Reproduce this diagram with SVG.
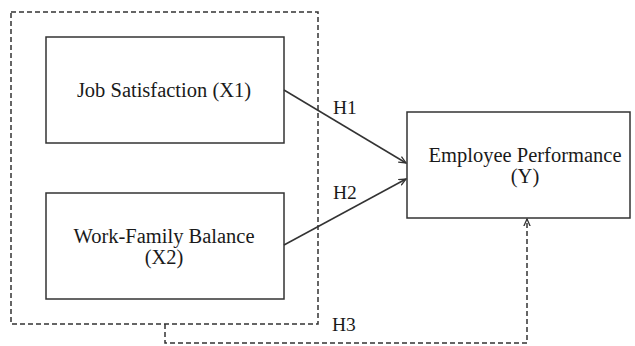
<svg xmlns="http://www.w3.org/2000/svg" width="635" height="346" viewBox="0 0 635 346">
<style>
.box{fill:#fff;stroke:#333;stroke-width:1.5}
.dash{fill:none;stroke:#333;stroke-width:1.5;stroke-dasharray:5,3}
.line{fill:none;stroke:#333;stroke-width:1.5}
text{font-family:"Liberation Serif","Times New Roman",serif;font-size:20.5px;fill:#1a1a1a;text-anchor:middle}
.lbl{text-anchor:start;font-size:19.5px}
</style>
<defs>
<marker id="arr" viewBox="0 0 10 10" refX="9" refY="5" markerWidth="8" markerHeight="8" markerUnits="userSpaceOnUse" orient="auto">
<path d="M0,1 L9,5 L0,9" fill="none" stroke="#333" stroke-width="1.6"/>
</marker>
</defs>
<rect x="0" y="0" width="635" height="346" fill="#fff"/>
<g id="group-box">
<rect class="dash" x="11" y="12" width="307" height="312"/>
</g>
<g id="node-x1">
<rect class="box" x="46" y="37" width="238" height="106"/>
<text x="164" y="97">Job Satisfaction (X1)</text>
</g>
<g id="node-x2">
<rect class="box" x="46" y="193" width="238" height="106"/>
<text x="164" y="243">Work-Family Balance</text>
<text x="164" y="264">(X2)</text>
</g>
<g id="node-y">
<rect class="box" x="407" y="112" width="223" height="106"/>
<text x="525" y="162">Employee Performance</text>
<text x="525" y="183">(Y)</text>
</g>
<g id="connectors">
<line class="line" x1="284" y1="90" x2="406" y2="163" marker-end="url(#arr)"/>
<line class="line" x1="284" y1="245" x2="406" y2="179" marker-end="url(#arr)"/>
<polyline class="dash" points="165,324 165,343 527,343 527,219" marker-end="url(#arr)"/>
<text class="lbl" x="333" y="114">H1</text>
<text class="lbl" x="333" y="199">H2</text>
<text class="lbl" x="332" y="331">H3</text>
</g>
</svg>
